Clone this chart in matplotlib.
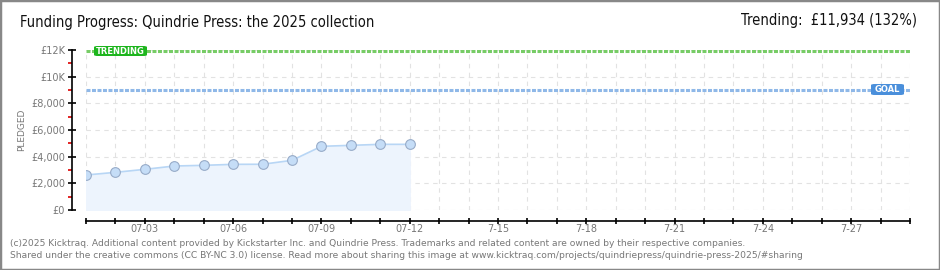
import matplotlib.pyplot as plt
from matplotlib.patches import Rectangle, FancyBboxPatch
import numpy as np

# 每日累计筹款 (GBP)
days = list(range(12))  # 07-01 .. 07-12
pledged = [2625, 2825, 3050, 3300, 3350, 3425, 3430, 3725, 4775, 4850, 4925, 4925]
goal = 9000
trending = 11934
n_days = 28

x_tick_labels = ['07-03', '07-06', '07-09', '07-12', '7-15', '7-18', '7-21', '7-24', '7-27']
x_tick_pos = [2, 5, 8, 11, 14, 17, 20, 23, 26]
y_ticks = [0, 2000, 4000, 6000, 8000, 10000, 12000]
y_tick_labels = ['£0', '£2,000', '£4,000', '£6,000', '£8,000', '£10K', '£12K']

W, H = 940, 270
fig = plt.figure(figsize=(W / 100, H / 100), dpi=100)
fig.patch.set_facecolor('white')
ax = fig.add_axes([86 / W, 1 - 210 / H, (910 - 86) / W, 160 / H])
ax.set_xlim(0, n_days)
ax.set_ylim(0, 12000)

# 网格
for d in range(n_days + 1):
    ax.axvline(d, color='#e2e2e2', lw=0.8, ls=(0, (4, 4)), zorder=0)
for v in y_ticks:
    ax.axhline(v, color='#e2e2e2', lw=0.8, ls=(0, (4, 4)), zorder=0)

# 目标线和趋势线
ax.axhline(trending, color='#77cc66', lw=2.2, ls=(0, (1.3, 0.5)), zorder=1)
ax.axhline(goal, color='#8fb8e8', lw=2.2, ls=(0, (1.3, 0.5)), zorder=1)

ax.fill_between(days, pledged, 0, color='#edf4fd', zorder=2)
ax.plot(days, pledged, color='#b8d6f5', lw=1.2, zorder=3)
ax.plot(days, pledged, 'o', ms=7, mfc='#c5ddf7', mec='#97abc8', mew=0.8, zorder=4)

for s in ['top', 'right']:
    ax.spines[s].set_visible(False)
ax.spines['left'].set_position(('outward', 10))
ax.spines['bottom'].set_position(('outward', 8))
ax.spines['left'].set_color('black')
ax.spines['bottom'].set_color('black')
ax.spines['left'].set_linewidth(1.2)
ax.spines['bottom'].set_linewidth(1.2)

ax.set_yticks(y_ticks)
ax.set_yticklabels(y_tick_labels)
ax.set_yticks([1000, 3000, 5000, 7000, 9000, 11000], minor=True)
ax.tick_params(axis='y', which='major', direction='inout', length=6, width=1.2,
               colors='black', labelcolor='#777777', labelsize=7, pad=2)
ax.tick_params(axis='y', which='minor', direction='out', length=3, width=1.2, color='#dd0000')

ax.set_xticks(range(n_days + 1))
ax.set_xticklabels([''] * (n_days + 1))
ax.tick_params(axis='x', which='major', direction='inout', length=4.5, width=1.2,
               colors='black', labelsize=7)
for p, lab in zip(x_tick_pos, x_tick_labels):
    ax.text(p, -0.085, lab, transform=ax.get_xaxis_transform(), ha='center', va='top',
            fontsize=7, color='#777777')

ax.text(-0.078, 0.5, 'PLEDGED', transform=ax.transAxes, rotation=90, ha='center', va='center',
        fontsize=6.5, color='#777777')

# 标签框
fig.patches.append(FancyBboxPatch((94 / W, 1 - 56 / H), 53 / W, 10 / H,
                                  boxstyle='round,pad=0,rounding_size=0.004',
                                  transform=fig.transFigure, fc='#1db51d', ec='none', zorder=5))
fig.text(120 / W, 1 - 51 / H, 'TRENDING', ha='center', va='center', fontsize=6,
         color='white', fontweight='bold', zorder=6)
fig.patches.append(FancyBboxPatch((871 / W, 1 - 95 / H), 33 / W, 11 / H,
                                  boxstyle='round,pad=0,rounding_size=0.004',
                                  transform=fig.transFigure, fc='#4a8fdb', ec='none', zorder=5))
fig.text(887 / W, 1 - 89.5 / H, 'GOAL', ha='center', va='center', fontsize=6,
         color='white', fontweight='bold', zorder=6)

fig.text(20 / W, 1 - 22 / H, 'Funding Progress: Quindrie Press: the 2025 collection',
         ha='left', va='center', fontsize=10.5, stretch='condensed', color='#111111')
fig.text(917 / W, 1 - 21 / H, 'Trending:  £11,934 (132%)', ha='right', va='center',
         fontsize=10.5, stretch='condensed', color='#111111')

fig.text(10 / W, 1 - 243 / H,
         '(c)2025 Kicktraq. Additional content provided by Kickstarter Inc. and Quindrie Press. '
         'Trademarks and related content are owned by their respective companies.',
         ha='left', va='center', fontsize=6.6, color='#777777')
fig.text(10 / W, 1 - 256 / H,
         'Shared under the creative commons (CC BY-NC 3.0) license. Read more about sharing this image at '
         'www.kicktraq.com/projects/quindriepress/quindrie-press-2025/#sharing',
         ha='left', va='center', fontsize=6.6, color='#777777')

fig.patches.append(Rectangle((0, 0), 1, 1, transform=fig.transFigure, fill=False,
                             ec='#888888', lw=2.5))

fig.savefig('out.png', dpi=100, facecolor='white')
